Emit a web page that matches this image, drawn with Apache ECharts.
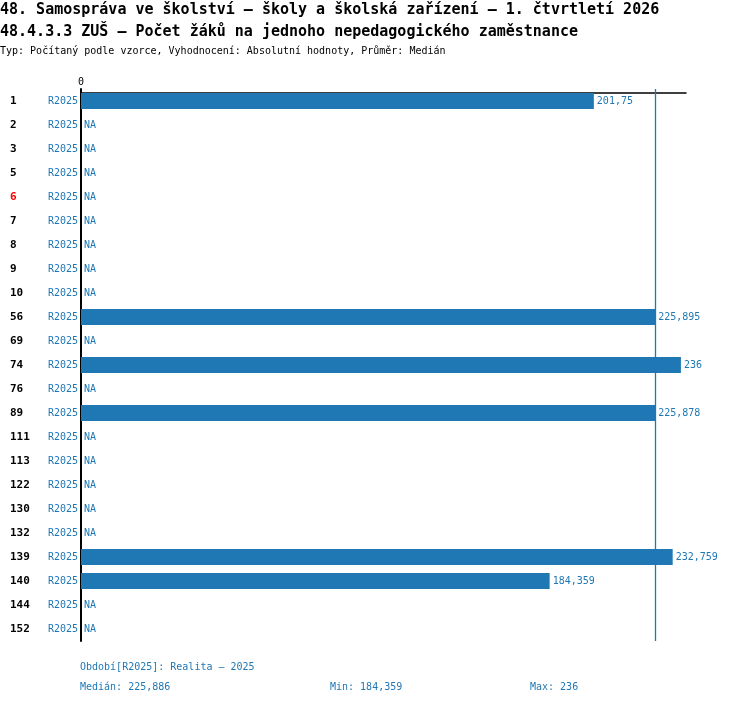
<!DOCTYPE html>
<html>
<head>
<meta charset="utf-8">
<script src="https://cdn.jsdelivr.net/npm/echarts@6/dist/echarts.min.js"></script>
<style>html,body{margin:0;padding:0;background:#fff}#c{width:750px;height:704px}</style>
</head>
<body>
<div id="c"></div>
<script>
const titleLines = [
  '48. Samospráva ve školství – školy a školská zařízení – 1. čtvrtletí 2026',
  '48.4.3.3 ZUŠ – Počet žáků na jednoho nepedagogického zaměstnance'
];
const subtitle = 'Typ: Počítaný podle vzorce, Vyhodnocení: Absolutní hodnoty, Průměr: Medián';
const categories = ['1','2','3','5','6','7','8','9','10','56','69','74','76','89','111','113','122','130','132','139','140','144','152'];
const highlighted = ['6'];
const periodLabel = 'R2025';
const values = [201.75,null,null,null,null,null,null,null,null,225.895,null,236,null,225.878,null,null,null,null,null,232.759,184.359,null,null];
const xMax = 238;
const statMedian = 225.886;
const statMin = 184.359;
const statMax = 236;
const footerPeriod = 'Období[R2025]: Realita – 2025';

const FONT = 'DejaVu Sans Mono';
const BLUE = '#1f77b4';
const fmt = v => String(v).replace('.', ',');

const chart = echarts.init(document.getElementById('c'), null, {renderer: 'canvas'});
const seriesData = values.map(v => v === null ? {value: 0, na: true} : {value: v});

chart.setOption({
  animation: false,
  textStyle: {fontFamily: FONT},
  title: [
    {text: titleLines[0], left: 0, top: 3, padding: 0, textStyle: {fontFamily: FONT, fontSize: 15, fontWeight: 'bold', color: '#000'}},
    {text: titleLines[1], left: 0, top: 25, padding: 0, textStyle: {fontFamily: FONT, fontSize: 15, fontWeight: 'bold', color: '#000'}},
    {text: subtitle, left: 0, top: 46, padding: 0, textStyle: {fontFamily: FONT, fontSize: 10, fontWeight: 'normal', color: '#000'}},
    {text: footerPeriod, left: 80, top: 662, padding: 0, textStyle: {fontFamily: FONT, fontSize: 10, fontWeight: 'normal', color: BLUE}},
    {text: 'Medián: ' + fmt(statMedian), left: 80, top: 682, padding: 0, textStyle: {fontFamily: FONT, fontSize: 10, fontWeight: 'normal', color: BLUE}},
    {text: 'Min: ' + fmt(statMin), left: 330, top: 682, padding: 0, textStyle: {fontFamily: FONT, fontSize: 10, fontWeight: 'normal', color: BLUE}},
    {text: 'Max: ' + fmt(statMax), left: 530, top: 682, padding: 0, textStyle: {fontFamily: FONT, fontSize: 10, fontWeight: 'normal', color: BLUE}}
  ],
  grid: {left: 81, top: 89, width: 605, height: 552, containLabel: false},
  xAxis: {
    type: 'value', position: 'top', min: 0, max: xMax, interval: xMax, offset: -4,
    axisLine: {show: true, lineStyle: {color: '#000', width: 1.5}},
    axisTick: {show: false},
    splitLine: {show: false},
    axisLabel: {
      show: true, margin: 6, fontFamily: FONT, fontSize: 10, color: '#000',
      formatter: v => v === 0 ? '0' : ''
    }
  },
  yAxis: {
    type: 'category', data: categories, inverse: true,
    axisLine: {show: true, lineStyle: {color: '#000', width: 2}},
    axisTick: {show: false},
    axisLabel: {
      margin: 3,
      formatter: c => (highlighted.includes(c) ? '{h|' + c + '}' : '{n|' + c + '}') + '{r|' + periodLabel + '}',
      rich: {
        n: {width: 37, align: 'left', fontFamily: FONT, fontSize: 11, fontWeight: 'bold', color: '#000'},
        h: {width: 37, align: 'left', fontFamily: FONT, fontSize: 11, fontWeight: 'bold', color: '#ff0000'},
        r: {width: 31, align: 'right', fontFamily: FONT, fontSize: 10, color: BLUE}
      }
    }
  },
  series: [{
    type: 'bar',
    data: seriesData,
    barWidth: 16,
    itemStyle: {color: BLUE},
    label: {
      show: true, position: 'right', distance: 3,
      fontFamily: FONT, fontSize: 10, color: BLUE,
      formatter: p => p.data.na ? 'NA' : fmt(p.data.value)
    },
    markLine: {
      silent: true, symbol: 'none',
      label: {show: false},
      emphasis: {disabled: true},
      lineStyle: {color: BLUE, width: 1.3, type: 'solid', opacity: 1},
      data: [{xAxis: statMedian}]
    }
  }]
});
</script>
</body>
</html>
